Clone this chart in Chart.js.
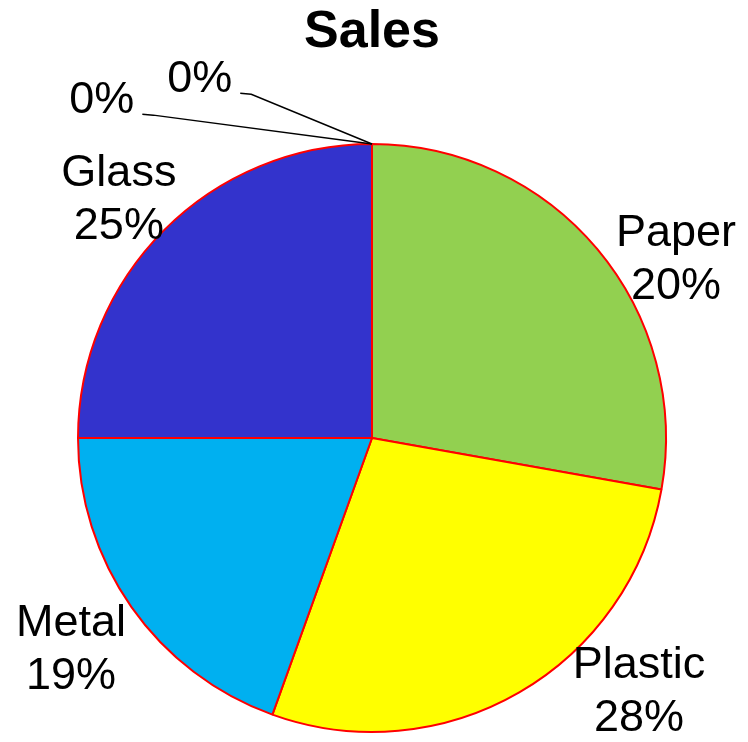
<!DOCTYPE html>
<html>
<head>
<meta charset="utf-8">
<title>Sales</title>
<script src="https://cdn.jsdelivr.net/npm/chart.js@4"></script>
<style>
  html, body { margin: 0; padding: 0; background: #fff; }
  #wrap { width: 748px; height: 742px; }
</style>
</head>
<body>
<div id="wrap"><canvas id="grafico"></canvas></div>
<script>
// -------------------- DADOS --------------------
const categorias = ['Paper', 'Plastic', 'Metal', 'Glass', '', ''];
const vendas = [27.8, 27.7, 19.5, 25, 0, 0];
// percentuais como aparecem nos rótulos do gráfico
const rotulosPct = ['20%', '28%', '19%', '25%', '0%', '0%'];
const cores = ['#92D050', '#FFFF00', '#00B0F0', '#3333CC', '#C0504D', '#4BACC6'];

// posição dos rótulos em relação ao centro, em múltiplos do raio
const posRotulos = [
  [1.034, -0.654],
  [0.908, 0.817],
  [-1.024, 0.675],
  [-0.861, -0.858],
  [-0.919, -1.105],
  [-0.586, -1.176]
];

const FONTE = '"Liberation Sans", Arial, sans-serif';

// -------------------- PLUGIN DE RÓTULOS --------------------
const rotulosPlugin = {
  id: 'rotulos',
  afterDatasetsDraw(chart) {
    const ctx = chart.ctx;
    const arcos = chart.getDatasetMeta(0).data;
    ctx.save();
    ctx.fillStyle = '#000';
    ctx.font = '45px ' + FONTE;
    ctx.textAlign = 'center';
    ctx.textBaseline = 'alphabetic';
    arcos.forEach((arco, i) => {
      const r = arco.outerRadius;
      const x = arco.x + posRotulos[i][0] * r;
      const y = arco.y + posRotulos[i][1] * r;
      if (categorias[i]) {
        ctx.fillText(categorias[i], x, y);
        ctx.fillText(rotulosPct[i], x, y + 53);
      } else {
        ctx.fillText(rotulosPct[i], x, y);
        // linha de chamada até a fatia de 0%
        const w = ctx.measureText(rotulosPct[i]).width;
        const x0 = x + w / 2 + 8;
        const y0 = y + 1;
        const px = arco.x + r * Math.cos(arco.startAngle);
        const py = arco.y + r * Math.sin(arco.startAngle);
        ctx.beginPath();
        ctx.moveTo(x0, y0);
        ctx.lineTo(x0 + 11, y0 + 1);
        ctx.lineTo(px, py);
        ctx.strokeStyle = '#000';
        ctx.lineWidth = 1.5;
        ctx.stroke();
      }
    });
    ctx.restore();
  }
};

// -------------------- GRÁFICO --------------------
new Chart(document.getElementById('grafico'), {
  type: 'pie',
  data: {
    labels: categorias,
    datasets: [{
      data: vendas,
      backgroundColor: cores,
      borderColor: '#FF0000',
      borderWidth: 2
    }]
  },
  options: {
    responsive: true,
    maintainAspectRatio: false,
    animation: false,
    layout: { padding: { top: 0, bottom: 9, left: 0, right: 4 } },
    plugins: {
      legend: { display: false },
      tooltip: { enabled: false },
      title: {
        display: true,
        text: 'Sales',
        color: '#000',
        font: { family: FONTE, size: 52, weight: 'bold', lineHeight: 1.2 },
        padding: { top: 1, bottom: 79.6 }
      }
    }
  },
  plugins: [rotulosPlugin]
});
</script>
</body>
</html>
